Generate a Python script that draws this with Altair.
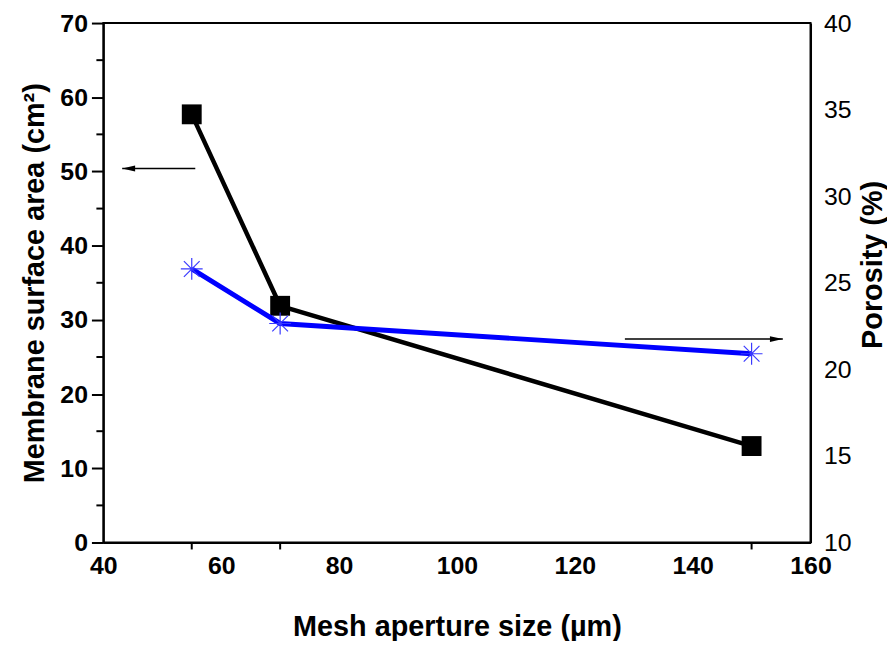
import altair as alt
import pandas as pd

# ---- data ----
mesh = [55, 70, 150]                 # Mesh aperture size (µm)
surface_area = [57.7, 31.9, 13.0]    # Membrane surface area (cm²)
porosity = [25.8, 22.65, 20.9]       # Porosity (%)

x_labels = [40, 60, 80, 100, 120, 140, 160]
left_major = [0, 10, 20, 30, 40, 50, 60, 70]
left_minor = [5, 15, 25, 35, 45, 55, 65]
right_ticks = [10, 15, 20, 25, 30, 35, 40]

# annotation arrows (data units)
left_arrow_x = [55.6, 43.2]
left_arrow_y = [50.4]
right_arrow_x = [128.5, 155.3]
right_arrow_y = [21.75]

W, H = 712, 523
FONT = "Liberation Sans"
LBL = 25
TTL = 29

df = pd.DataFrame({"mesh": mesh, "area": surface_area, "por": porosity})
df_minor = pd.DataFrame({"v": left_minor})
df_la = pd.DataFrame({"x": [left_arrow_x[0]], "x2": [left_arrow_x[1]], "y": left_arrow_y})
df_ra = pd.DataFrame({"x": [right_arrow_x[0]], "x2": [right_arrow_x[1]], "y": right_arrow_y})

xscale = alt.Scale(domain=[40, 160], nice=False, zero=False)
yl_scale = alt.Scale(domain=[0, 70], nice=False, zero=False)
yr_scale = alt.Scale(domain=[10, 40], nice=False, zero=False)

x_axis = alt.Axis(
    title="Mesh aperture size (µm)", values=x_labels, ticks=False, tickSize=0,
    labelFontSize=LBL, labelFontWeight="bold", labelPadding=11, labelColor="black",
    labelFlush=False, labelOverlap=False,
    titleFontSize=TTL, titleFontWeight="bold", titlePadding=35, titleColor="black",
    domainColor="black", domainWidth=2, grid=False, labelFont=FONT, titleFont=FONT,
)
yl_axis = alt.Axis(
    title="Membrane surface area (cm²)", values=left_major, tickSize=12, tickWidth=2,
    tickColor="black", labelFontSize=LBL, labelFontWeight="bold", labelPadding=4,
    labelColor="black", labelFlush=False, labelOverlap=False,
    titleFontSize=TTL, titleFontWeight="bold", titlePadding=10,
    titleColor="black", domainColor="black", domainWidth=2, grid=False,
    labelFont=FONT, titleFont=FONT,
)
yr_axis = alt.Axis(
    title="Porosity (%)", orient="right", values=right_ticks, ticks=False, tickSize=0,
    labelFontSize=LBL, labelFontWeight="normal", labelPadding=13, labelColor="black",
    labelFlush=False, labelOverlap=False,
    titleFontSize=TTL, titleFontWeight="bold", titlePadding=37, titleAngle=270,
    titleY=243,
    titleColor="black", domainColor="black", domainWidth=2, grid=False,
    labelFont=FONT, titleFont=FONT,
)

base = alt.Chart(df)


def X(field):
    return alt.X(field, scale=xscale, axis=x_axis)


def YL(field):
    return alt.Y(field, scale=yl_scale, axis=yl_axis)


def YR(field):
    return alt.Y(field, scale=yr_scale, axis=yr_axis)


black_line = base.mark_line(color="black", strokeWidth=4.5).encode(
    x=X("mesh:Q"), y=YL("area:Q"),
)
squares = base.mark_point(shape="square", size=400, filled=True, color="black", opacity=1).encode(
    x=X("mesh:Q"), y=YL("area:Q"),
)
minor_ticks = alt.Chart(df_minor).mark_rule(color="black", strokeWidth=2, clip=False).encode(
    x=alt.value(-7), x2=alt.value(0), y=YL("v:Q"),
)
x_data_ticks = base.mark_rule(color="black", strokeWidth=2, clip=False).encode(
    x=X("mesh:Q"), y=alt.value(H), y2=alt.value(H + 7),
)
la_line = alt.Chart(df_la).mark_rule(color="black", strokeWidth=1.5).encode(
    x=X("x:Q"), x2="x2:Q", y=YL("y:Q"),
)
la_head = alt.Chart(df_la).mark_point(
    shape="M0,0L2,-0.45L2,0.45Z", size=169, filled=True, color="black", opacity=1
).encode(
    x=X("x2:Q"), y=YL("y:Q"),
)

left_group = alt.layer(black_line, minor_ticks, x_data_ticks, la_line, la_head, squares)

blue_line = base.mark_line(color="#0000ff", strokeWidth=5).encode(
    x=X("mesh:Q"), y=YR("por:Q"),
)
stars = base.mark_point(
    shape="M-1,0L1,0M0,-1L0,1M-0.72,-0.72L0.72,0.72M-0.72,0.72L0.72,-0.72",
    size=484, filled=False, color="#3a3aff", strokeWidth=1.2, opacity=1,
).encode(
    x=X("mesh:Q"), y=YR("por:Q"),
)
ra_line = alt.Chart(df_ra).mark_rule(color="black", strokeWidth=1.5).encode(
    x=X("x:Q"), x2="x2:Q", y=YR("y:Q"),
)
ra_head = alt.Chart(df_ra).mark_point(
    shape="M0,0L-2,-0.45L-2,0.45Z", size=169, filled=True, color="black", opacity=1
).encode(
    x=X("x2:Q"), y=YR("y:Q"),
)

right_group = alt.layer(blue_line, ra_line, ra_head, stars)

chart = (
    alt.layer(left_group, right_group)
    .resolve_scale(y="independent")
    .properties(
        width=W, height=H,
        autosize=alt.AutoSizeParams(type="none"),
        padding={"left": 96, "top": 13, "right": 77, "bottom": 97},
        background="white",
    )
    .configure_view(stroke="black", strokeWidth=2)
)

chart.save("out.html", embed_options={"renderer": "svg", "actions": False})
